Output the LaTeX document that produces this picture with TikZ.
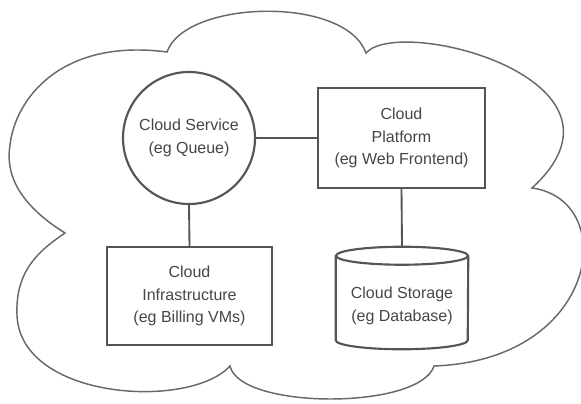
\documentclass[tikz,border=0pt]{standalone}
\usepackage{fontspec}
\setmainfont{Liberation Sans}
\usetikzlibrary{calc}

\begin{document}
\begin{tikzpicture}[x=0.75pt,y=-0.75pt]
        %%init
        %字号
        \newcommand{\boxfont}{\fontsize{12}{17}\selectfont}
        %颜色
        \definecolor{line_color}{RGB}{85,85,85}
        \definecolor{cloud_color}{RGB}{105,105,105}
        \definecolor{text_color}{RGB}{70,70,70}
        \tikzset{boxes/.style = {draw=line_color, line width=1.6pt, fill=white, text=text_color, align=center, font=\boxfont}}
        \tikzset{links/.style = {draw=line_color, line width=1.4pt}}

        \useasboundingbox (0,0) rectangle (581,403);

        %%云朵轮廓
        %凹点
        \coordinate (A) at (167,52);
        \coordinate (B) at (366,53);
        \coordinate (C) at (532,188);
        \coordinate (D) at (434,366);
        \coordinate (E) at (230,366);
        \coordinate (F) at (65,233);
        \draw[cloud_color, line width=1.1pt] (A) .. controls (185,0) and (345,-5) .. (B)
            .. controls (400,15) and (650,80) .. (C)
            .. controls (620,200) and (600,360) .. (D)
            .. controls (420,410) and (240,410) .. (E)
            .. controls (190,410) and (20,400) .. (17,315)
            .. controls (15,270) and (40,250) .. (F)
            .. controls (20,205) and (5,175) .. (10,145)
            .. controls (15,100) and (60,38) .. cycle;

        %%四个部件
        \node[boxes, circle, minimum size=99pt, inner sep=0pt] (svc) at (189,138) {Cloud Service\\(eg Queue)};
        \node[boxes, minimum width=125pt, minimum height=75pt] (plat) at (401.5,138) {Cloud\\Platform\\(eg Web Frontend)};
        \node[boxes, minimum width=124pt, minimum height=73pt] (infra) at (189.5,296) {Cloud\\Infrastructure\\(eg Billing VMs)};
        %圆柱
        \node[minimum width=99pt, minimum height=76.5pt, inner sep=0pt] (stor) at (402,298) {};
        \draw[line_color, line width=1.6pt] ($(stor.north west)+(0,9)$) -- ($(stor.south west)+(0,-9)$)
            arc[start angle=180, end angle=360, x radius=49.5pt, y radius=6.75pt] -- ($(stor.north east)+(0,9)$);
        \draw[line_color, line width=1.6pt] ($(stor.north)+(0,9)$) ellipse[x radius=49.5pt, y radius=6.75pt];
        \node[text=text_color, align=center, font=\boxfont] (storlbl) at (402,306) {Cloud Storage\\(eg Database)};

        %%连线
        \draw[links] (svc) -- (plat);
        \draw[links] (svc.south) -- (infra.north);
        \draw[links] (plat.south) -- (stor.north);
\end{tikzpicture}
\end{document}
